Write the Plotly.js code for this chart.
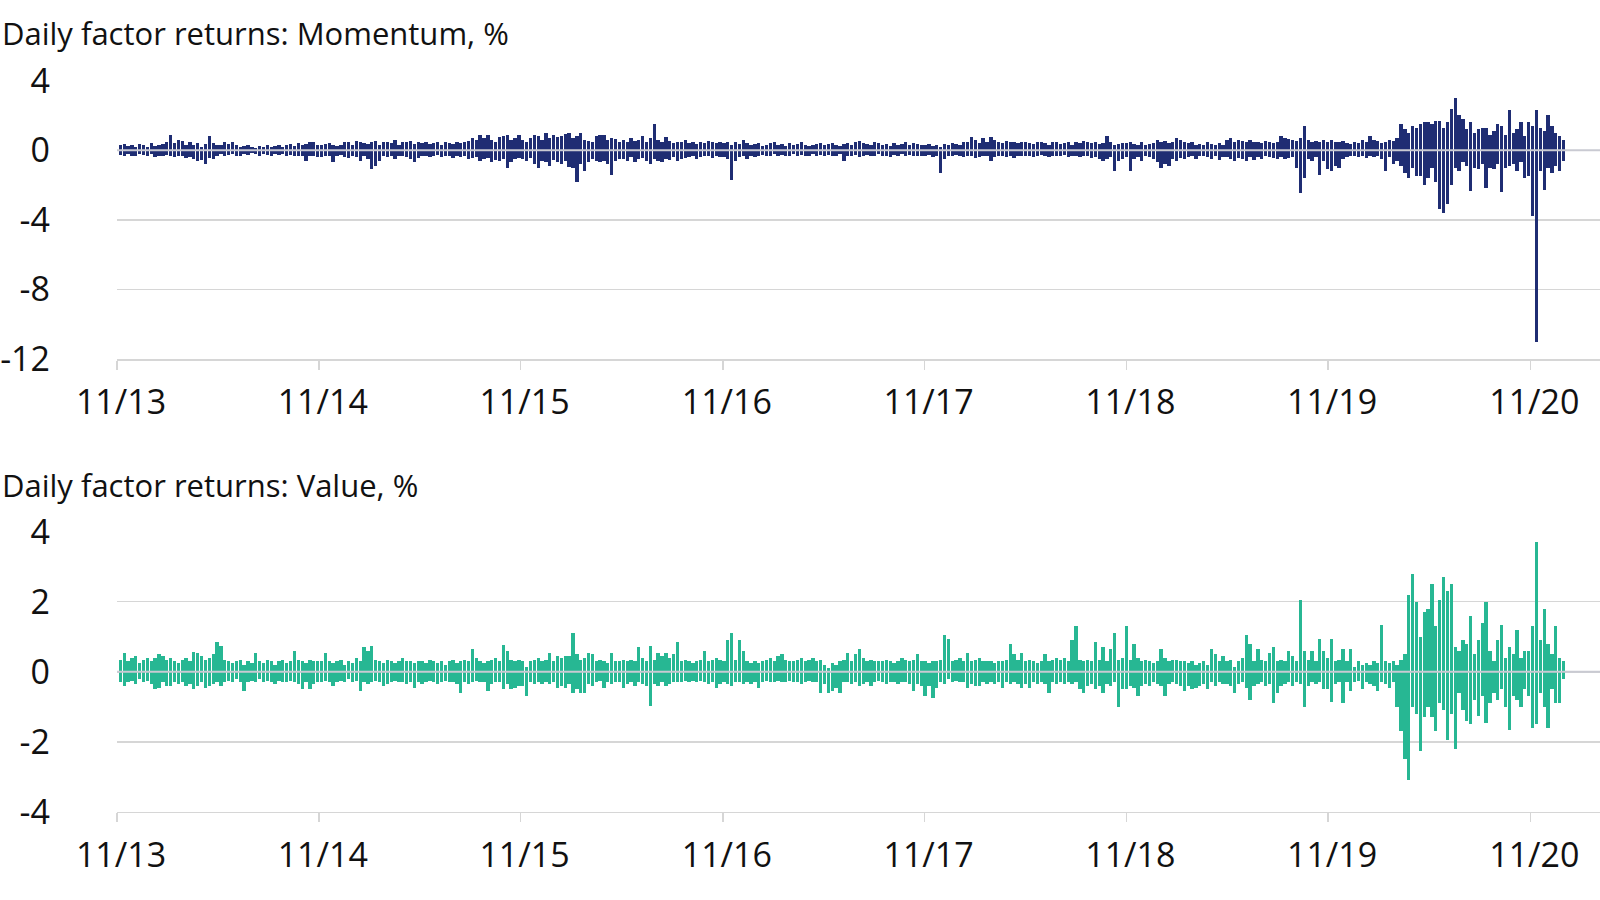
<!DOCTYPE html>
<html>
<head>
<meta charset="utf-8">
<script src="https://cdn.plot.ly/plotly-3.0.1.min.js"></script>
<style>
  html, body { margin: 0; padding: 0; background: #ffffff; }
  #chart { width: 1600px; height: 900px; }
</style>
</head>
<body>
<div id="chart"></div>
<script>
// Weekly series (largest up-day and largest down-day of each week), %, starting week of 7 Nov 2013
const startDate = '2013-11-07';

const momentumUp = [
0.3,0.35,0.25,0.3,0.2,0.35,0.3,0.2,0.4,0.25,0.3,0.35,0.5,0.9,0.4,0.6,0.55,0.3,0.45,0.3,0.4,0.2,0.35,0.8,0.4,0.3,
0.3,0.45,0.35,0.5,0.3,0.2,0.25,0.3,0.2,0.15,0.25,0.2,0.3,0.2,0.25,0.3,0.2,0.3,0.35,0.25,0.4,0.3,0.35,0.5,0.45,0.3,
0.3,0.35,0.4,0.3,0.25,0.3,0.5,0.45,0.3,0.55,0.5,0.4,0.35,0.5,0.55,0.3,0.45,0.5,0.4,0.6,0.3,0.5,0.45,0.55,0.35,0.5,
0.4,0.45,0.35,0.4,0.5,0.3,0.45,0.4,0.35,0.5,0.4,0.45,0.55,0.7,0.6,0.85,0.7,0.9,0.6,0.5,0.75,0.8,0.9,0.6,0.7,0.85,
0.6,0.5,0.7,0.9,0.8,0.6,1.0,0.7,0.9,0.75,0.8,0.95,1.0,0.7,0.8,1.0,0.6,0.55,0.5,0.8,0.9,0.85,0.6,0.7,0.65,0.5,
0.6,0.5,0.7,0.55,0.6,0.8,0.5,0.7,1.5,0.6,0.5,0.75,0.55,0.4,0.5,0.45,0.6,0.4,0.5,0.35,0.45,0.4,0.55,0.5,0.4,0.45,
0.4,0.5,0.3,0.45,0.35,0.6,0.4,0.3,0.35,0.4,0.25,0.3,0.4,0.5,0.3,0.35,0.25,0.4,0.3,0.35,0.45,0.3,0.25,0.3,0.35,0.4,
0.3,0.35,0.4,0.3,0.25,0.35,0.4,0.3,0.5,0.55,0.4,0.35,0.3,0.45,0.4,0.3,0.35,0.25,0.4,0.3,0.35,0.45,0.3,0.4,0.35,0.3,
0.3,0.35,0.25,0.3,0.2,0.35,0.3,0.4,0.35,0.3,0.45,0.5,0.75,0.6,0.4,0.7,0.5,0.75,0.6,0.45,0.4,0.55,0.5,0.45,0.4,0.5,
0.45,0.4,0.35,0.5,0.45,0.4,0.3,0.45,0.5,0.35,0.4,0.45,0.3,0.5,0.4,0.55,0.45,0.4,0.5,0.35,0.4,0.8,0.45,0.3,0.35,0.4,
0.4,0.5,0.35,0.3,0.45,0.3,0.35,0.4,0.6,0.5,0.55,0.4,0.5,0.7,0.6,0.45,0.4,0.5,0.3,0.35,0.3,0.45,0.35,0.3,0.4,0.3,
0.6,0.7,0.5,0.6,0.55,0.5,0.6,0.45,0.5,0.4,0.55,0.45,0.4,0.5,0.8,0.7,0.65,0.6,0.55,0.7,1.4,0.6,0.5,0.55,0.45,0.6,
0.5,0.6,0.45,0.5,0.55,0.4,0.35,0.45,0.4,0.6,0.5,0.8,0.6,0.55,0.4,0.5,0.6,0.55,0.7,1.5,1.2,1.0,1.4,1.3,1.5,1.6,
1.6,1.5,1.7,1.7,1.3,1.6,2.4,3.0,2.0,1.8,1.2,1.6,1.0,1.2,1.3,1.3,0.9,1.1,1.5,1.4,0.9,2.3,1.0,1.2,1.6,0.8,
1.6,1.4,2.3,1.3,1.1,2.0,1.4,1.0,0.8,0.6];

const momentumDown = [
-0.25,-0.3,-0.2,-0.35,-0.3,-0.2,-0.25,-0.3,-0.2,-0.4,-0.3,-0.35,-0.25,-0.3,-0.4,-0.35,-0.3,-0.45,-0.4,-0.5,-0.6,-0.55,-0.8,-0.45,-0.5,-0.35,
-0.2,-0.3,-0.25,-0.2,-0.35,-0.3,-0.2,-0.25,-0.15,-0.2,-0.3,-0.2,-0.25,-0.3,-0.2,-0.25,-0.2,-0.3,-0.25,-0.35,-0.3,-0.3,-0.6,-0.35,-0.3,-0.4,
-0.4,-0.3,-0.35,-0.7,-0.3,-0.25,-0.4,-0.45,-0.3,-0.4,-0.6,-0.3,-0.5,-1.1,-0.9,-0.6,-0.3,-0.4,-0.3,-0.5,-0.35,-0.3,-0.4,-0.5,-0.7,-0.45,
-0.3,-0.35,-0.4,-0.3,-0.25,-0.4,-0.35,-0.3,-0.45,-0.3,-0.4,-0.35,-0.5,-0.45,-0.4,-0.6,-0.5,-0.45,-0.7,-0.55,-0.6,-0.5,-1.0,-0.65,-0.5,-0.45,
-0.5,-0.6,-0.45,-0.8,-1.0,-0.6,-0.7,-0.9,-0.55,-0.7,-0.8,-0.6,-0.95,-1.0,-1.8,-0.8,-1.2,-0.7,-0.5,-0.6,-0.7,-0.6,-0.8,-1.4,-0.6,-0.5,
-0.5,-0.6,-0.4,-0.7,-0.5,-0.45,-0.6,-0.8,-0.5,-0.6,-0.7,-0.5,-0.55,-0.4,-0.6,-0.5,-0.45,-0.4,-0.35,-0.5,-0.4,-0.3,-0.35,-0.45,-0.3,-0.4,
-0.4,-0.5,-1.7,-0.6,-0.4,-0.3,-0.5,-0.35,-0.4,-0.3,-0.25,-0.35,-0.3,-0.2,-0.3,-0.25,-0.35,-0.3,-0.2,-0.3,-0.25,-0.3,-0.35,-0.2,-0.3,-0.25,
-0.3,-0.25,-0.35,-0.3,-0.2,-0.6,-0.35,-0.3,-0.25,-0.4,-0.3,-0.25,-0.35,-0.3,-0.2,-0.3,-0.35,-0.4,-0.25,-0.3,-0.2,-0.3,-0.25,-0.35,-0.3,-0.3,
-0.3,-0.25,-0.4,-0.3,-1.3,-0.5,-0.3,-0.35,-0.25,-0.3,-0.4,-0.3,-0.35,-0.45,-0.4,-0.3,-0.35,-0.6,-0.4,-0.3,-0.35,-0.4,-0.3,-0.45,-0.35,-0.3,
-0.35,-0.3,-0.4,-0.3,-0.25,-0.35,-0.4,-0.3,-0.35,-0.3,-0.25,-0.4,-0.3,-0.35,-0.4,-0.3,-0.35,-0.45,-0.4,-0.5,-0.6,-0.5,-0.4,-1.2,-0.6,-0.5,
-0.4,-1.2,-0.5,-0.4,-0.6,-0.35,-0.4,-0.5,-0.7,-1.0,-0.8,-0.9,-0.5,-0.6,-0.45,-0.5,-0.4,-0.35,-0.5,-0.3,-0.35,-0.4,-0.5,-0.3,-0.55,-0.4,
-0.4,-0.5,-0.6,-0.45,-0.5,-0.6,-0.4,-0.55,-0.4,-0.5,-0.35,-0.4,-0.45,-0.5,-0.4,-0.5,-0.45,-0.4,-1.0,-2.45,-1.6,-0.5,-0.6,-0.4,-1.4,-0.6,
-1.1,-1.2,-0.9,-1.0,-0.5,-0.4,-0.3,-0.35,-0.4,-0.3,-0.45,-0.35,-0.4,-0.3,-0.5,-1.2,-0.4,-0.8,-0.6,-0.9,-1.3,-1.6,-1.0,-1.5,-1.5,-2.0,
-1.6,-1.0,-1.8,-3.4,-3.6,-3.1,-2.0,-1.0,-1.2,-0.7,-0.9,-2.35,-1.0,-1.1,-0.8,-2.15,-1.0,-1.1,-0.8,-2.4,-1.0,-0.9,-0.8,-1.2,-0.7,-1.6,
-1.5,-3.8,-11.0,-1.2,-2.3,-1.0,-1.3,-0.9,-1.2,-0.6];

const valueUp = [
0.35,0.55,0.3,0.4,0.45,0.25,0.35,0.4,0.3,0.4,0.5,0.45,0.35,0.4,0.3,0.25,0.35,0.4,0.3,0.57,0.55,0.45,0.35,0.4,0.5,0.86,
0.73,0.35,0.3,0.25,0.3,0.35,0.2,0.3,0.25,0.55,0.3,0.25,0.35,0.3,0.2,0.3,0.35,0.25,0.3,0.6,0.35,0.3,0.25,0.35,0.3,0.3,
0.3,0.55,0.3,0.25,0.3,0.35,0.2,0.3,0.25,0.4,0.3,0.7,0.6,0.75,0.35,0.3,0.25,0.35,0.3,0.25,0.3,0.38,0.3,0.3,0.25,0.3,
0.3,0.25,0.35,0.3,0.25,0.3,0.2,0.3,0.35,0.25,0.3,0.35,0.3,0.65,0.4,0.3,0.25,0.3,0.35,0.4,0.3,0.77,0.6,0.35,0.3,0.35,
0.3,0.15,0.3,0.35,0.4,0.3,0.35,0.55,0.3,0.45,0.4,0.45,0.45,1.1,0.5,0.35,0.4,0.55,0.5,0.3,0.35,0.3,0.25,0.55,0.3,0.3,
0.35,0.3,0.35,0.3,0.7,0.4,0.3,0.75,0.35,0.55,0.45,0.55,0.4,0.5,0.85,0.3,0.35,0.3,0.25,0.3,0.35,0.6,0.3,0.35,0.4,0.35,
0.3,0.92,1.1,0.35,0.9,0.6,0.3,0.25,0.3,0.25,0.3,0.35,0.4,0.3,0.45,0.5,0.35,0.3,0.3,0.35,0.4,0.3,0.35,0.4,0.3,0.35,
0.2,0.1,0.25,0.2,0.3,0.35,0.55,0.3,0.5,0.66,0.4,0.3,0.35,0.3,0.3,0.3,0.35,0.3,0.25,0.3,0.4,0.35,0.3,0.35,0.5,0.3,
0.3,0.25,0.3,0.3,0.35,1.05,0.95,0.3,0.35,0.4,0.3,0.55,0.3,0.35,0.4,0.3,0.3,0.3,0.25,0.3,0.3,0.35,0.8,0.5,0.35,0.55,
0.3,0.35,0.3,0.25,0.3,0.5,0.3,0.35,0.4,0.35,0.4,0.3,0.9,1.3,0.35,0.3,0.35,0.3,0.85,0.35,0.7,0.3,0.65,1.1,0.35,0.4,
1.3,0.35,0.8,0.4,0.3,0.35,0.3,0.25,0.3,0.65,0.4,0.3,0.35,0.35,0.3,0.3,0.25,0.3,0.2,0.25,0.3,0.2,0.65,0.5,0.3,0.45,
0.3,0.35,0.15,0.3,0.4,1.05,0.8,0.3,0.65,0.35,0.3,0.55,0.7,0.3,0.35,0.3,0.6,0.45,0.3,2.05,0.6,0.35,0.6,0.3,0.95,0.6,
0.4,0.95,0.3,0.35,0.65,0.3,0.65,0.15,0.3,0.2,0.25,0.2,0.3,0.25,1.35,0.3,0.25,0.3,0.2,0.35,0.5,2.2,2.8,2.0,1.0,1.7,
1.8,2.5,1.3,2.05,2.7,2.3,2.5,0.7,0.6,0.9,0.8,1.6,0.5,0.9,1.4,2.0,0.6,0.3,0.9,1.35,0.4,0.7,0.5,1.2,0.4,0.6,
0.6,1.3,3.7,0.9,1.8,0.8,0.5,1.3,0.4,0.3];

const valueDown = [
-0.3,-0.41,-0.3,-0.25,-0.35,-0.2,-0.3,-0.25,-0.35,-0.5,-0.45,-0.3,-0.4,-0.4,-0.3,-0.35,-0.3,-0.4,-0.35,-0.5,-0.4,-0.3,-0.45,-0.4,-0.35,-0.3,
-0.4,-0.3,-0.25,-0.3,-0.2,-0.3,-0.55,-0.3,-0.25,-0.3,-0.2,-0.3,-0.25,-0.3,-0.35,-0.25,-0.3,-0.3,-0.25,-0.3,-0.35,-0.5,-0.3,-0.5,-0.35,-0.3,
-0.3,-0.25,-0.3,-0.4,-0.3,-0.25,-0.3,-0.2,-0.3,-0.25,-0.55,-0.3,-0.35,-0.3,-0.25,-0.3,-0.4,-0.35,-0.3,-0.25,-0.3,-0.3,-0.35,-0.3,-0.45,-0.3,
-0.35,-0.3,-0.25,-0.3,-0.35,-0.3,-0.25,-0.3,-0.3,-0.35,-0.6,-0.3,-0.35,-0.3,-0.25,-0.3,-0.3,-0.55,-0.35,-0.3,-0.3,-0.5,-0.35,-0.5,-0.45,-0.4,
-0.4,-0.7,-0.3,-0.35,-0.3,-0.35,-0.3,-0.35,-0.3,-0.45,-0.4,-0.45,-0.35,-0.6,-0.5,-0.6,-0.6,-0.35,-0.4,-0.3,-0.25,-0.45,-0.3,-0.35,-0.3,-0.3,
-0.45,-0.35,-0.3,-0.4,-0.3,-0.35,-0.4,-0.98,-0.35,-0.4,-0.3,-0.4,-0.35,-0.3,-0.3,-0.3,-0.25,-0.3,-0.25,-0.3,-0.25,-0.3,-0.35,-0.3,-0.45,-0.35,
-0.3,-0.35,-0.4,-0.3,-0.3,-0.35,-0.3,-0.35,-0.3,-0.45,-0.3,-0.25,-0.3,-0.3,-0.25,-0.3,-0.3,-0.25,-0.3,-0.3,-0.35,-0.3,-0.25,-0.3,-0.3,-0.6,
-0.35,-0.6,-0.55,-0.45,-0.6,-0.3,-0.3,-0.35,-0.3,-0.4,-0.35,-0.3,-0.4,-0.3,-0.25,-0.3,-0.35,-0.3,-0.3,-0.35,-0.3,-0.3,-0.35,-0.55,-0.35,-0.4,
-0.68,-0.4,-0.75,-0.45,-0.3,-0.35,-0.2,-0.3,-0.25,-0.3,-0.3,-0.45,-0.35,-0.4,-0.4,-0.3,-0.35,-0.3,-0.35,-0.3,-0.45,-0.3,-0.35,-0.3,-0.35,-0.45,
-0.35,-0.45,-0.3,-0.35,-0.3,-0.35,-0.6,-0.3,-0.35,-0.3,-0.35,-0.3,-0.35,-0.3,-0.5,-0.6,-0.4,-0.35,-0.5,-0.4,-0.6,-0.35,-0.4,-0.3,-1.0,-0.5,
-0.5,-0.4,-0.45,-0.7,-0.4,-0.35,-0.4,-0.3,-0.35,-0.4,-0.7,-0.35,-0.3,-0.35,-0.4,-0.55,-0.4,-0.5,-0.45,-0.4,-0.35,-0.5,-0.3,-0.4,-0.3,-0.35,
-0.35,-0.4,-0.6,-0.35,-0.3,-0.45,-0.8,-0.4,-0.35,-0.3,-0.4,-0.35,-0.9,-0.6,-0.4,-0.35,-0.3,-0.4,-0.3,-0.35,-1.0,-0.4,-0.3,-0.35,-0.3,-0.5,
-0.5,-0.85,-0.35,-0.3,-0.9,-0.3,-0.55,-0.3,-0.25,-0.5,-0.3,-0.35,-0.4,-0.55,-0.3,-0.35,-0.45,-0.3,-1.0,-1.7,-2.5,-3.1,-1.0,-1.2,-2.25,-1.3,
-1.0,-1.3,-1.7,-0.9,-1.1,-1.95,-1.2,-2.2,-0.6,-1.1,-1.4,-1.5,-0.8,-1.25,-0.7,-1.45,-0.9,-0.6,-0.8,-0.5,-1.0,-1.65,-0.7,-0.8,-1.0,-0.5,
-0.7,-1.6,-1.5,-0.6,-1.0,-1.6,-0.5,-0.9,-0.9,-0.2];

const tickDates = ['2013-11-01','2014-11-01','2015-11-01','2016-11-01','2017-11-01','2018-11-01','2019-11-01','2020-11-01'];
const tickLabels = ['11/13','11/14','11/15','11/16','11/17','11/18','11/19','11/20'];
const panelTitles = ['Daily factor returns: Momentum, %', 'Daily factor returns: Value, %'];

const DAY = 864e5;
function weekDates(n) {
  const t0 = Date.parse(startDate + 'T00:00:00Z');
  const out = [];
  for (let i = 0; i < n; i++) out.push(new Date(t0 + i * 7 * DAY).toISOString().slice(0, 10));
  return out;
}

const navy = '#1f2d73';
const teal = '#27b793';
const barW = 6 * DAY;

function barTrace(vals, color, xa, ya) {
  return {
    type: 'bar', x: weekDates(vals.length), y: vals, xaxis: xa, yaxis: ya,
    marker: { color: color, line: { width: 0 } },
    width: barW, offset: -barW / 2, hoverinfo: 'x+y', showlegend: false
  };
}

const data = [
  barTrace(momentumUp, navy, 'x', 'y'),
  barTrace(momentumDown, navy, 'x', 'y'),
  barTrace(valueUp, teal, 'x2', 'y2'),
  barTrace(valueDown, teal, 'x2', 'y2')
];

const tickFont = { family: 'Open Sans, sans-serif', size: 34, color: '#111111' };
const titleFont = { family: 'Open Sans, sans-serif', size: 31, color: '#111111' };
const gridC = '#d6d6d6';

function xAxis(anchor) {
  return {
    type: 'date', anchor: anchor, domain: [0, 1],
    range: ['2013-11-01', '2021-03-07'],
    tickvals: tickDates, ticktext: tickLabels,
    ticks: 'outside', ticklen: 9, tickwidth: 1.5, tickcolor: gridC,
    showline: true, linecolor: gridC, linewidth: 1.5,
    showgrid: false, zeroline: false,
    tickfont: tickFont, ticklabelstandoff: 4, ticklabelshift: 4,
    fixedrange: true
  };
}

const layout = {
  width: 1600, height: 900,
  margin: { l: 117, r: 0, t: 0, b: 0, pad: 0 },
  paper_bgcolor: '#ffffff', plot_bgcolor: '#ffffff',
  barmode: 'overlay', bargap: 0,
  font: tickFont,
  xaxis: xAxis('y'),
  xaxis2: xAxis('y2'),
  yaxis: {
    domain: [0.6009, 0.9104], range: [-12, 4], anchor: 'x',
    tickvals: [4, 0, -4, -8, -12], ticktext: ['4', '0', '-4', '-8', '-12'],
    showgrid: true, gridcolor: gridC, gridwidth: 1.5, zeroline: false,
    ticks: '', tickfont: tickFont, ticklabelstandoff: 66, fixedrange: true
  },
  yaxis2: {
    domain: [0.0978, 0.4093], range: [-4, 4], anchor: 'x2',
    tickvals: [4, 2, 0, -2, -4], ticktext: ['4', '2', '0', '-2', '-4'],
    showgrid: true, gridcolor: gridC, gridwidth: 1.5, zeroline: false,
    ticks: '', tickfont: tickFont, ticklabelstandoff: 66, fixedrange: true
  },
  shapes: [
    { type: 'line', xref: 'paper', x0: 0, x1: 1, yref: 'y', y0: 0, y1: 0, line: { color: '#c9cad2', width: 2 }, layer: 'above' },
    { type: 'line', xref: 'paper', x0: 0, x1: 1, yref: 'y2', y0: 0, y1: 0, line: { color: '#c9cad2', width: 2 }, layer: 'above' }
  ],
  annotations: [
    { text: panelTitles[0], xref: 'paper', yref: 'paper', x: -117 / 1483, y: 1 - 33 / 900, xanchor: 'left', yanchor: 'middle', showarrow: false, font: titleFont },
    { text: panelTitles[1], xref: 'paper', yref: 'paper', x: -117 / 1483, y: 1 - 485 / 900, xanchor: 'left', yanchor: 'middle', showarrow: false, font: titleFont }
  ]
};

Plotly.newPlot('chart', data, layout, { staticPlot: true, displayModeBar: false });
</script>
</body>
</html>
